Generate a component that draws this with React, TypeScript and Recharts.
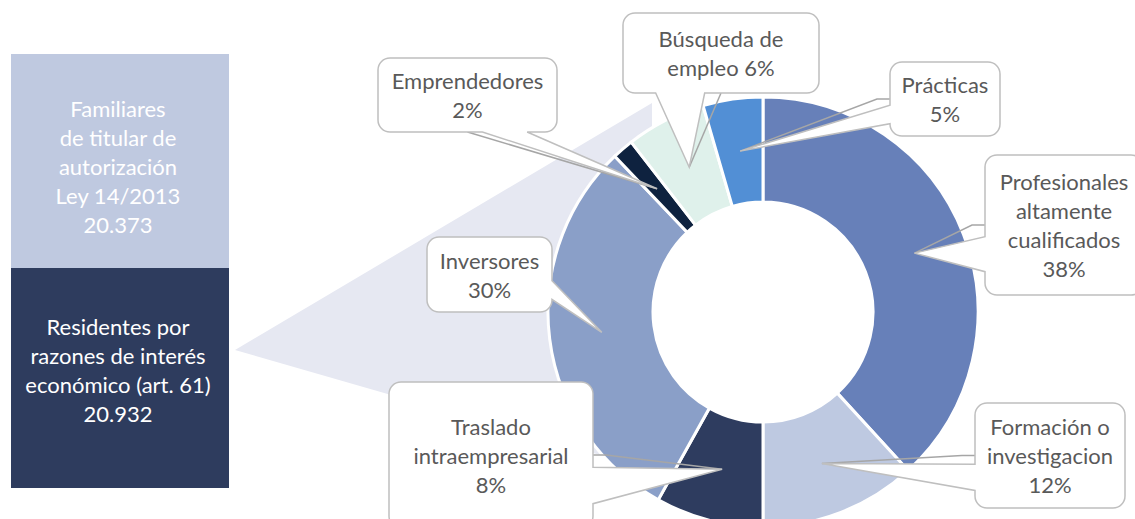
import { Bar, BarChart, Cell, LabelList, Pie, PieChart, XAxis, YAxis } from "recharts";

const FONT = "Lato, 'Open Sans', sans-serif";
const RAD = Math.PI / 180;

// Left stacked bar: the two kinds of permit (bottom segment first)
const barCategories = [
  "Residentes por\nrazones de interés\neconómico (art. 61)",
  "Familiares\nde titular de\nautorización\nLey 14/2013",
];
const barValues = [20932, 20373];
const barColors = ["#2E3C5E", "#BFC9E0"];

// Donut: breakdown of the art. 61 residents, clockwise from 12 o'clock
const sliceLabels = [
  "Profesionales\naltamente\ncualificados\n{p}",
  "Formación o\ninvestigacion\n{p}",
  "Traslado\nintraempresarial\n{p}",
  "Inversores\n{p}",
  "Emprendedores\n{p}",
  "Búsqueda de\nempleo {p}",
  "Prácticas\n{p}",
];
const sliceValues = [7996, 2470, 1695, 6238, 335, 1256, 942];
const sliceColors = ["#6780B9", "#BEC9E1", "#2E3C5F", "#8A9FC8", "#0E223F", "#DFF1EB", "#528FD5"];

// where each callout box sits (Excel moved them by hand), and whether a leader line was drawn
const calloutBoxes = [
  { x: 985, y: 155, w: 158, h: 140, leader: true },
  { x: 975, y: 403, w: 150, h: 105, leader: true },
  { x: 389, y: 382, w: 204, h: 146, leader: true },
  { x: 427, y: 237, w: 125, h: 75, leader: false },
  { x: 378, y: 58, w: 179, h: 74, leader: true },
  { x: 623, y: 13, w: 196, h: 80, leader: true },
  { x: 890, y: 62, w: 110, h: 74, leader: true },
];

// the "zoom" wedge from the bar to the donut
const connector = [
  [235, 350],
  [652, 103],
  [652, 470],
];

const LINE_H = 29;
const TEXT_GREY = "#595959";

function thousands(v: number) {
  return String(v).replace(/\B(?=(\d{3})+(?!\d))/g, ".");
}

const barRow: Record<string, any> = { name: "total" };
barValues.forEach((v, i) => (barRow[`s${i}`] = v));
const barData = [barRow];
const barTotal = barValues.reduce((a, b) => a + b, 0);
const barShift = [-8, 5];

const pieData = sliceValues.map((value, i) => ({ name: sliceLabels[i], value }));

function BarText(props: any, i: number) {
  const x = Number(props.x);
  const y = Number(props.y);
  const w = Number(props.width);
  const h = Number(props.height);
  const lines = [...barCategories[i].split("\n"), thousands(barValues[i])];
  const midY = y + h / 2 + barShift[i];
  const cx = x + w / 2 - 2;
  return (
    <text fill="#ffffff" fontSize={22} fontFamily={FONT} textAnchor="middle">
      {lines.map((l, k) => (
        <tspan key={k} x={cx} y={midY + (k - (lines.length - 1) / 2) * LINE_H} dominantBaseline="central">
          {l}
        </tspan>
      ))}
    </text>
  );
}

function calloutPath(x: number, y: number, w: number, h: number, tx: number, ty: number) {
  const r = 12;
  const dx = tx - (x + w / 2);
  const dy = ty - (y + h / 2);
  const dq = (dx * h) / w;
  let side: string;
  if (Math.abs(dy) > Math.abs(dq)) side = dy > 0 ? "bottom" : "top";
  else side = dx > 0 ? "right" : "left";
  const bx1 = x + (w * (dx > 0 ? 7 : 2)) / 12;
  const bx2 = x + (w * (dx > 0 ? 10 : 5)) / 12;
  const by1 = y + (h * (dy > 0 ? 7 : 2)) / 12;
  const by2 = y + (h * (dy > 0 ? 10 : 5)) / 12;
  let d = `M${x + r},${y}`;
  if (side === "top") d += `L${bx1},${y}L${tx},${ty}L${bx2},${y}`;
  d += `L${x + w - r},${y}A${r},${r} 0 0 1 ${x + w},${y + r}`;
  if (side === "right") d += `L${x + w},${by1}L${tx},${ty}L${x + w},${by2}`;
  d += `L${x + w},${y + h - r}A${r},${r} 0 0 1 ${x + w - r},${y + h}`;
  if (side === "bottom") d += `L${bx2},${y + h}L${tx},${ty}L${bx1},${y + h}`;
  d += `L${x + r},${y + h}A${r},${r} 0 0 1 ${x},${y + h - r}`;
  if (side === "left") d += `L${x},${by2}L${tx},${ty}L${x},${by1}`;
  d += `L${x},${y + r}A${r},${r} 0 0 1 ${x + r},${y}Z`;
  return { d, side };
}

function renderCallout(props: any) {
  const { cx, cy, midAngle, innerRadius, outerRadius, percent, index } = props;
  const box = calloutBoxes[index];
  const rMid = (Number(innerRadius) + Number(outerRadius)) / 2;
  const tx = Number(cx) + rMid * Math.cos(-midAngle * RAD);
  const ty = Number(cy) + rMid * Math.sin(-midAngle * RAD);
  const { d, side } = calloutPath(box.x, box.y, box.w, box.h, tx, ty);

  let leader = "";
  if (box.leader) {
    if (side === "left") {
      const sy = box.y + box.h / 2;
      leader = `M${box.x},${sy}L${box.x - 13},${sy}L${tx},${ty}`;
    } else if (side === "right") {
      const sy = box.y + box.h / 2;
      leader = `M${box.x + box.w},${sy}L${box.x + box.w + 13},${sy}L${tx},${ty}`;
    } else {
      const sx = box.x + box.w / 2;
      const sy = side === "top" ? box.y : box.y + box.h;
      leader = `M${sx},${sy}L${tx},${ty}`;
    }
  }

  const pct = `${Math.round(percent * 100)}%`;
  const lines = sliceLabels[index].replace("{p}", pct).split("\n");
  const midY = box.y + box.h / 2;
  const midX = box.x + box.w / 2;

  return (
    <g key={`callout-${index}`}>
      {leader && <path d={leader} fill="none" stroke="#A6A6A6" strokeWidth={1.5} />}
      <path d={d} fill="#ffffff" stroke="#BFBFBF" strokeWidth={1.5} />
      <text fill={TEXT_GREY} fontSize={22} fontFamily={FONT} textAnchor="middle">
        {lines.map((l, k) => (
          <tspan key={k} x={midX} y={midY + (k - (lines.length - 1) / 2) * LINE_H} dominantBaseline="central">
            {l}
          </tspan>
        ))}
      </text>
    </g>
  );
}

export default function App() {
  return (
    <div
      style={{
        position: "absolute",
        left: 0,
        top: 0,
        width: 1135,
        height: 519,
        overflow: "hidden",
        background: "#ffffff",
      }}
    >
      <svg width={1135} height={519} style={{ position: "absolute", left: 0, top: 0 }}>
        <polygon points={connector.map((p) => p.join(",")).join(" ")} fill="#E6E8F2" />
      </svg>

      <div style={{ position: "absolute", left: 0, top: 0 }}>
        <BarChart width={240} height={519} data={barData} margin={{ top: 54, right: 11, bottom: 31, left: 11 }} barCategoryGap={0}>
          <XAxis dataKey="name" hide />
          <YAxis hide domain={[0, barTotal]} />
          {barValues.map((_, i) => (
            <Bar key={i} dataKey={`s${i}`} stackId="a" fill={barColors[i]} isAnimationActive={false}>
              <LabelList dataKey={`s${i}`} content={(p: any) => BarText(p, i)} />
            </Bar>
          ))}
        </BarChart>
      </div>

      <div style={{ position: "absolute", left: 0, top: 0 }}>
        <PieChart width={1135} height={519} margin={{ top: 0, right: 0, bottom: 0, left: 0 }}>
          <Pie
            data={pieData}
            dataKey="value"
            cx={763}
            cy={312}
            innerRadius={110}
            outerRadius={215}
            startAngle={90}
            endAngle={-270}
            stroke="#ffffff"
            strokeWidth={3}
            label={renderCallout}
            labelLine={false}
            isAnimationActive={false}
          >
            {pieData.map((_, i) => (
              <Cell key={i} fill={sliceColors[i]} />
            ))}
          </Pie>
        </PieChart>
      </div>
    </div>
  );
}
